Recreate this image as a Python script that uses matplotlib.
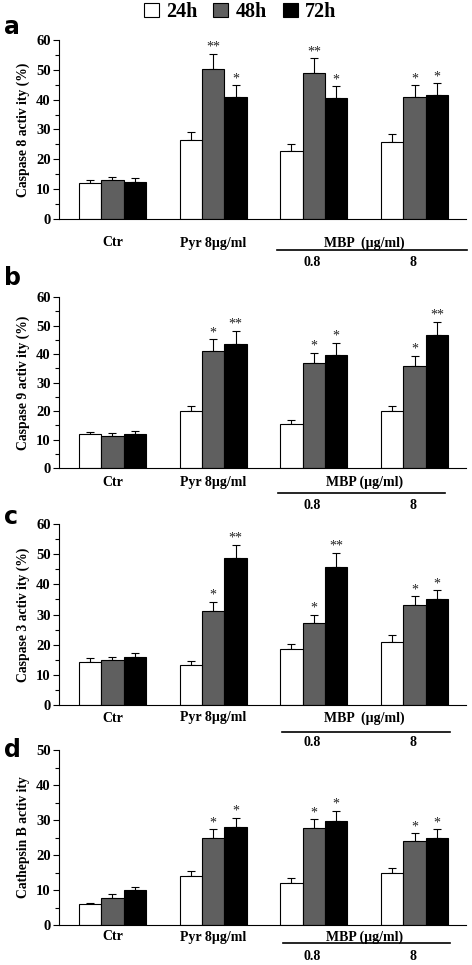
import numpy as np
import matplotlib
matplotlib.use('Agg')
import matplotlib.pyplot as plt
from matplotlib.patches import Patch

plt.rcParams['font.family'] = 'Liberation Serif'
plt.rcParams['font.weight'] = 'bold'

times = ['24h', '48h', '72h']
colors = ['white', '#5f5f5f', 'black']
groups = ['Ctr', 'Pyr 8\u00b5g/ml', '', '']
doses = ['', '', '0.8', '8']

# caspase 8
c8_mean = [[12.2, 26.6, 22.9, 25.8], [13.0, 50.2, 49.1, 40.8], [12.3, 40.8, 40.4, 41.5]]
c8_err = [[1.0, 2.5, 2.2, 2.6], [1.1, 5.1, 4.8, 4.0], [1.3, 4.0, 4.1, 4.0]]
c8_sig = [['', '', '', ''], ['', '**', '**', '*'], ['', '*', '*', '*']]

# caspase 9
c9_mean = [[11.8, 19.9, 15.4, 19.9], [11.1, 41.2, 37.0, 35.9], [11.9, 43.5, 39.8, 46.7]]
c9_err = [[1.0, 2.0, 1.5, 2.0], [1.2, 4.0, 3.5, 3.4], [1.1, 4.6, 4.2, 4.6]]
c9_sig = [['', '', '', ''], ['', '*', '*', '*'], ['', '**', '*', '**']]

# caspase 3
c3_mean = [[14.1, 13.4, 18.4, 20.9], [14.8, 31.3, 27.3, 33.2], [15.9, 48.6, 45.8, 35.0]]
c3_err = [[1.5, 1.3, 1.9, 2.2], [1.2, 2.9, 2.6, 2.8], [1.5, 4.6, 4.7, 3.1]]
c3_sig = [['', '', '', ''], ['', '*', '*', '*'], ['', '**', '**', '*']]

# cathepsin B
cb_mean = [[6.0, 14.1, 12.0, 15.0], [7.8, 24.9, 27.6, 24.0], [10.0, 27.9, 29.8, 24.9]]
cb_err = [[0.4, 1.2, 1.3, 1.3], [1.1, 2.5, 2.6, 2.2], [0.9, 2.7, 2.8, 2.5]]
cb_sig = [['', '', '', ''], ['', '*', '*', '*'], ['', '*', '*', '*']]

W, H = 472, 965
fig = plt.figure(figsize=(W / 100, H / 100), dpi=100)

# panel: data, ylabel, ymax, top px, bottom px, letter, letter y, label offsets px, mbp text, line span
panels = [
    (c8_mean, c8_err, c8_sig, 'Caspase 8 activ ity (%)', 60, 40, 219, 'a', 27, (24, 31, 43), 'MBP  (\u00b5g/ml)', (1.63, 3.52)),
    (c9_mean, c9_err, c9_sig, 'Caspase 9 activ ity (%)', 60, 297, 468, 'b', 278, (14, 25, 37), 'MBP (\u00b5g/ml)', (1.64, 3.30)),
    (c3_mean, c3_err, c3_sig, 'Caspase 3 activ ity (%)', 60, 524, 705, 'c', 517, (13, 27, 38), 'MBP  (\u00b5g/ml)', (1.68, 3.35)),
    (cb_mean, cb_err, cb_sig, 'Cathepsin B activ ity', 50, 750, 925, 'd', 750, (12, 18, 32), 'MBP (\u00b5g/ml)', (1.69, 3.35)),
]

x = np.arange(4)
bw = 0.222
left, right = 59, 466

for mean, err, sig, ylab, ymax, top, bot, letter, ly, offs, mbp, lspan in panels:
    ax = fig.add_axes([left / W, 1 - bot / H, (right - left) / W, (bot - top) / H])
    for i in range(3):
        xs = x + (i - 1) * bw
        ax.bar(xs, mean[i], bw, color=colors[i], edgecolor='black', linewidth=0.8, zorder=2)
        ax.errorbar(xs, mean[i], yerr=[np.zeros(4), err[i]], fmt='none', ecolor='black',
                    elinewidth=0.8, capsize=3, capthick=0.8, zorder=1)
        for j in range(4):
            if sig[i][j]:
                ax.annotate(sig[i][j], (xs[j], mean[i][j] + err[i][j]), xytext=(0, 0),
                            textcoords='offset pixels', ha='center', va='bottom',
                            fontsize=10, fontweight='normal', color='#222222')
    ax.set_xlim(-0.531, 3.511)
    ax.set_ylim(0, ymax)
    ax.set_yticks(np.arange(0, ymax + 1, 10))
    ax.set_yticks(np.arange(5, ymax, 10), minor=True)
    ax.spines['top'].set_visible(False)
    ax.spines['right'].set_visible(False)
    ax.spines['left'].set_linewidth(0.8)
    ax.spines['bottom'].set_linewidth(0.8)
    ax.set_xticks([])
    ax.tick_params(axis='y', which='major', length=4, width=0.8, pad=2, labelsize=10.5)
    ax.tick_params(axis='y', which='minor', length=3, width=0.8)
    for t in ax.get_yticklabels():
        t.set_fontweight('bold')
    ax.set_ylabel(ylab, fontsize=9.8, fontweight='bold', labelpad=4)

    h = bot - top
    for j in range(4):
        if groups[j]:
            ax.annotate(groups[j], (x[j], 0), xycoords=('data', 'axes fraction'), xytext=(0, -offs[0]),
                        textcoords='offset pixels', ha='center', va='center', fontsize=10)
        if doses[j]:
            ax.annotate(doses[j], (x[j] - 0.02, 0), xycoords=('data', 'axes fraction'), xytext=(0, -offs[2]),
                        textcoords='offset pixels', ha='center', va='center', fontsize=10)
    ax.annotate(mbp, (2.5, 0), xycoords=('data', 'axes fraction'), xytext=(0, -offs[0]),
                textcoords='offset pixels', ha='center', va='center', fontsize=10)
    ax.plot(lspan, [-offs[1] / h] * 2, color='black', lw=1.2, transform=ax.get_xaxis_transform(),
            clip_on=False)

    fig.text(4 / W, 1 - ly / H, letter, fontsize=17, fontweight='bold', family='DejaVu Sans',
             ha='left', va='center')

handles = [Patch(facecolor=c, edgecolor='black', linewidth=0.8) for c in colors]
fig.legend(handles, times, loc='center', bbox_to_anchor=(240 / W, 1 - 12 / H), ncol=3,
           frameon=False, prop={'family': 'Liberation Serif', 'weight': 'bold', 'size': 14.5},
           handlelength=0.75, handleheight=0.75, handletextpad=0.35, columnspacing=0.8)

fig.savefig('out.png', dpi=100)
